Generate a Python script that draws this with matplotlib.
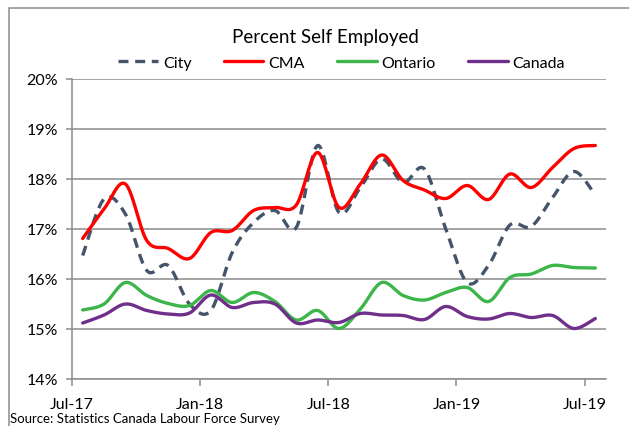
import numpy as np
import matplotlib
matplotlib.use('Agg')
import matplotlib.pyplot as plt
from matplotlib.patches import Rectangle

plt.rcParams['font.family'] = ['Lato', 'DejaVu Sans']

# monthly values, Jul-17 .. Jul-19 (percent)
months = ['Jul-17', 'Aug-17', 'Sep-17', 'Oct-17', 'Nov-17', 'Dec-17',
          'Jan-18', 'Feb-18', 'Mar-18', 'Apr-18', 'May-18', 'Jun-18',
          'Jul-18', 'Aug-18', 'Sep-18', 'Oct-18', 'Nov-18', 'Dec-18',
          'Jan-19', 'Feb-19', 'Mar-19', 'Apr-19', 'May-19', 'Jun-19', 'Jul-19']
city = [16.47, 17.6, 17.3, 16.17, 16.27, 15.5, 15.37, 16.53, 17.13, 17.37, 17.03, 18.67, 17.33,
        17.83, 18.4, 17.93, 18.2, 17.0, 15.93, 16.27, 17.08, 17.05, 17.63, 18.15, 17.68]
cma = [16.81, 17.4, 17.9, 16.77, 16.61, 16.41, 16.93, 16.97, 17.37, 17.43, 17.48, 18.53, 17.43,
       17.9, 18.48, 17.97, 17.78, 17.61, 17.87, 17.59, 18.1, 17.83, 18.23, 18.61, 18.67]
ontario = [15.38, 15.5, 15.93, 15.67, 15.51, 15.47, 15.77, 15.53, 15.73, 15.55, 15.18, 15.37, 15.01,
           15.4, 15.93, 15.67, 15.58, 15.73, 15.83, 15.55, 16.03, 16.1, 16.27, 16.23, 16.22]
canada = [15.12, 15.28, 15.5, 15.37, 15.3, 15.32, 15.68, 15.43, 15.53, 15.5, 15.12, 15.18, 15.13,
          15.31, 15.28, 15.27, 15.19, 15.45, 15.25, 15.2, 15.31, 15.23, 15.27, 15.01, 15.21]
tick_labels = ['Jul-17', 'Jan-18', 'Jul-18', 'Jan-19', 'Jul-19']


def smooth(x, y, n=20):
    # excel-style smoothed line (cubic bezier, catmull-rom control points)
    x = np.asarray(x, float)
    y = np.asarray(y, float)
    px = np.concatenate([[x[0]], x, [x[-1]]])
    py = np.concatenate([[y[0]], y, [y[-1]]])
    t = np.linspace(0, 1, n)[:, None]
    xs, ys = [], []
    for i in range(1, len(px) - 2):
        p0 = np.array([px[i], py[i]])
        p3 = np.array([px[i + 1], py[i + 1]])
        c1 = p0 + (p3 - np.array([px[i - 1], py[i - 1]])) / 6
        c2 = p3 - (np.array([px[i + 2], py[i + 2]]) - p0) / 6
        pts = ((1 - t) ** 3) * p0 + 3 * ((1 - t) ** 2) * t * c1 + 3 * (1 - t) * t ** 2 * c2 + t ** 3 * p3
        xs.append(pts[:, 0])
        ys.append(pts[:, 1])
    return np.concatenate(xs), np.concatenate(ys)


x = np.arange(len(months)) + 0.5

fig = plt.figure(figsize=(6.29, 4.27), dpi=100)
ax = fig.add_axes([72 / 629, 1 - 380 / 427, (606 - 72) / 629, 300 / 427])

ax.set_ylim(14, 20)
ax.set_xlim(0, 25)
ax.set_yticks(np.arange(14, 21, 1))
ax.set_yticklabels([f'{v}%' for v in range(14, 21)])
ax.set_xticks([0, 6, 12, 18, 24])
ax.set_xticklabels(tick_labels)
ax.yaxis.grid(True, color='#8c8c8c', linewidth=1.1)
ax.set_axisbelow(True)
for s in ['top', 'right']:
    ax.spines[s].set_visible(False)
for s in ['left', 'bottom']:
    ax.spines[s].set_color('#8c8c8c')
    ax.spines[s].set_linewidth(1.1)
ax.tick_params(axis='both', color='#8c8c8c', length=4, width=1.1, labelsize=11.5, pad=6)
ax.tick_params(axis='x', length=5, pad=8)

series = [('City', city, '#44546a', '--'), ('CMA', cma, '#ff0000', '-'),
          ('Ontario', ontario, '#3cb54a', '-'), ('Canada', canada, '#702f8a', '-')]
for name, vals, col, ls in series:
    sx, sy = smooth(x, vals)
    line, = ax.plot(sx, sy, color=col, linewidth=2.4, label=name, solid_capstyle='round')
    if ls == '--':
        line.set_dashes((3, 2))

fig.text(0.517, 1 - 37 / 427, 'Percent Self Employed', ha='center', va='center', fontsize=13.5)
fig.legend(loc='center', bbox_to_anchor=(0.543, 1 - 64 / 427), ncol=4, frameon=False,
           fontsize=11.5, handlelength=2.5, columnspacing=2.0, handletextpad=0.3)
fig.text(10 / 629, 1 - 419 / 427, 'Source: Statistics Canada Labour Force Survey',
         ha='left', va='center', fontsize=9.5)

fig.patches.append(Rectangle((9 / 629, -0.1), 1.2, 1 - 9 / 427 + 0.1, transform=fig.transFigure,
                             fill=False, edgecolor='#8c8c8c', linewidth=1.1))

fig.savefig('out.png', dpi=100)
